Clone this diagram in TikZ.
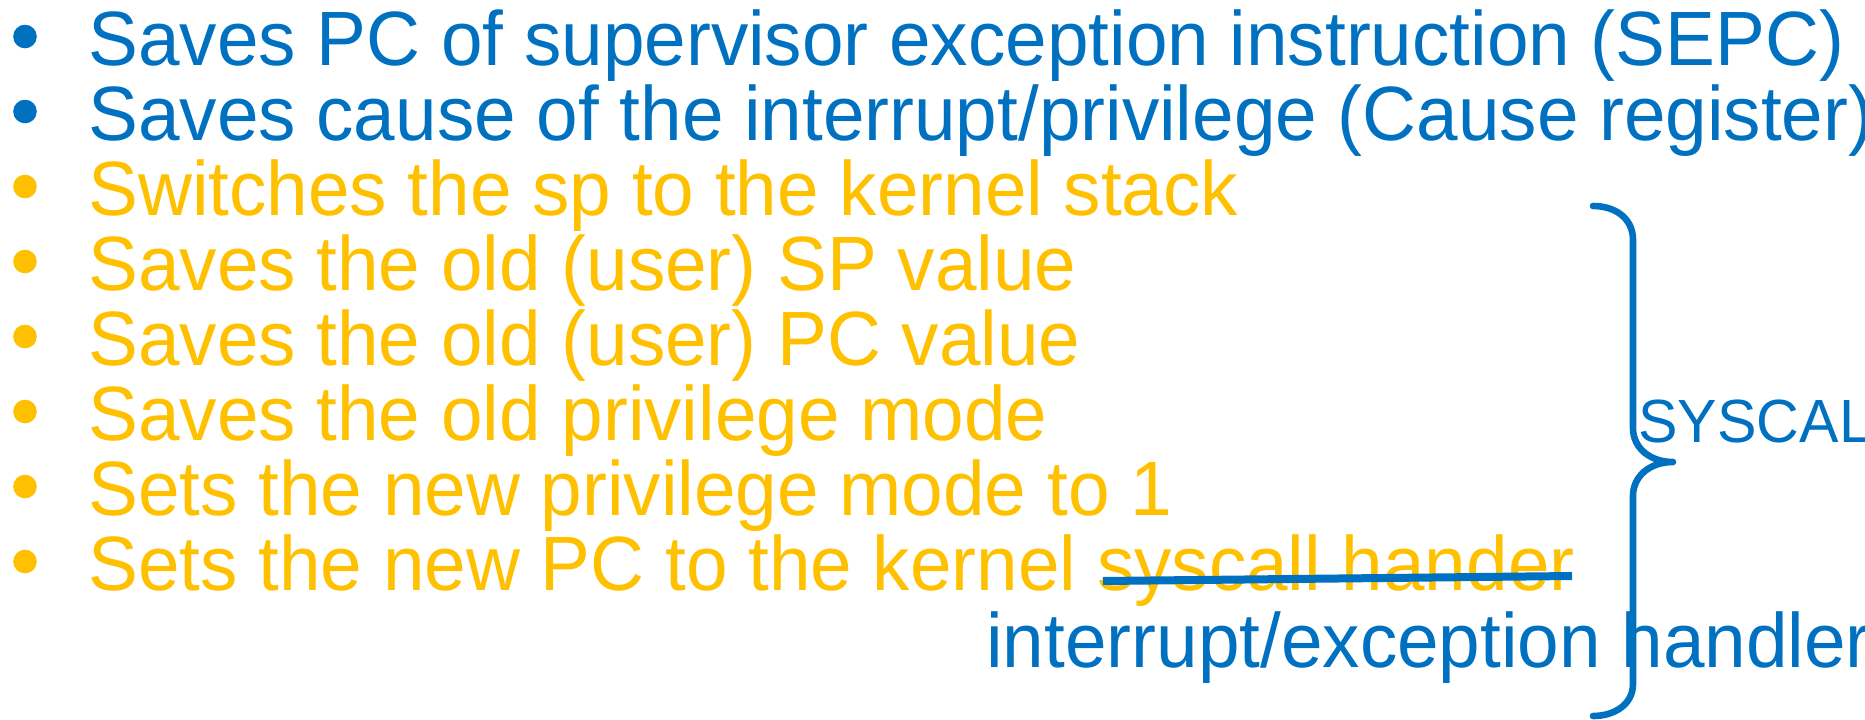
\documentclass[tikz,border=0pt]{standalone}
\usepackage{fontspec}
\setmainfont{Liberation Sans}[FakeStretch=0.97]
\definecolor{slideblue}{HTML}{0070C0}
\definecolor{slidegold}{HTML}{FFC000}
\tikzset{
    item/.style={anchor=base west, inner sep=0pt, font=\fontsize{38.5}{40}\selectfont},
    bulletdot/.style={circle, inner sep=0pt, minimum size=11.8pt},
    brace line/.style={draw=slideblue, line width=3.3pt, line cap=round, line join=round},
    strike/.style={draw=slideblue, line width=4pt},
}

\begin{document}
\begin{tikzpicture}[x=0.5pt,y=-0.5pt]
\useasboundingbox (0,0) rectangle (1865,719);
\clip (0,0) rectangle (1865,719);
\foreach \n/\c/\t in {1/slideblue/{Saves PC of supervisor exception instruction (SEPC)},
    2/slideblue/{Saves cause of the interrupt/privilege (Cause register)},
    3/slidegold/{Switches the sp to the kernel stack},
    4/slidegold/{Saves the old (user) SP value},
    5/slidegold/{Saves the old (user) PC value},
    6/slidegold/{Saves the old privilege mode},
    7/slidegold/{Sets the new privilege mode to 1},
    8/slidegold/{Sets the new PC to the kernel syscall hander}} {
\node[bulletdot, fill=\c] (b\n) at (25,{65+75*(\n-1)-28.5}) {};
\node[item, text=\c] (l\n) at (88,{65+75*(\n-1)}) {\t};
}
\draw[strike] (1103,581)--(1572,576);
\draw[brace line] (1593,206) .. controls (1615,206) and (1633,218) .. (1633,240)
    -- (1633,428) .. controls (1633,448) and (1650,462) .. (1673,462)
    .. controls (1650,462) and (1633,476) .. (1633,496)
    -- (1633,684) .. controls (1633,704) and (1615,716) .. (1593,716);
\node[anchor=base west, inner sep=0pt, font=\fontsize{30.5}{32}\selectfont, text=slideblue] (syscall) at (1638,442) {SYSCAL};
\node[item, text=slideblue] (handler) at (986,667) {interrupt/exception handler};
\end{tikzpicture}
\end{document}
